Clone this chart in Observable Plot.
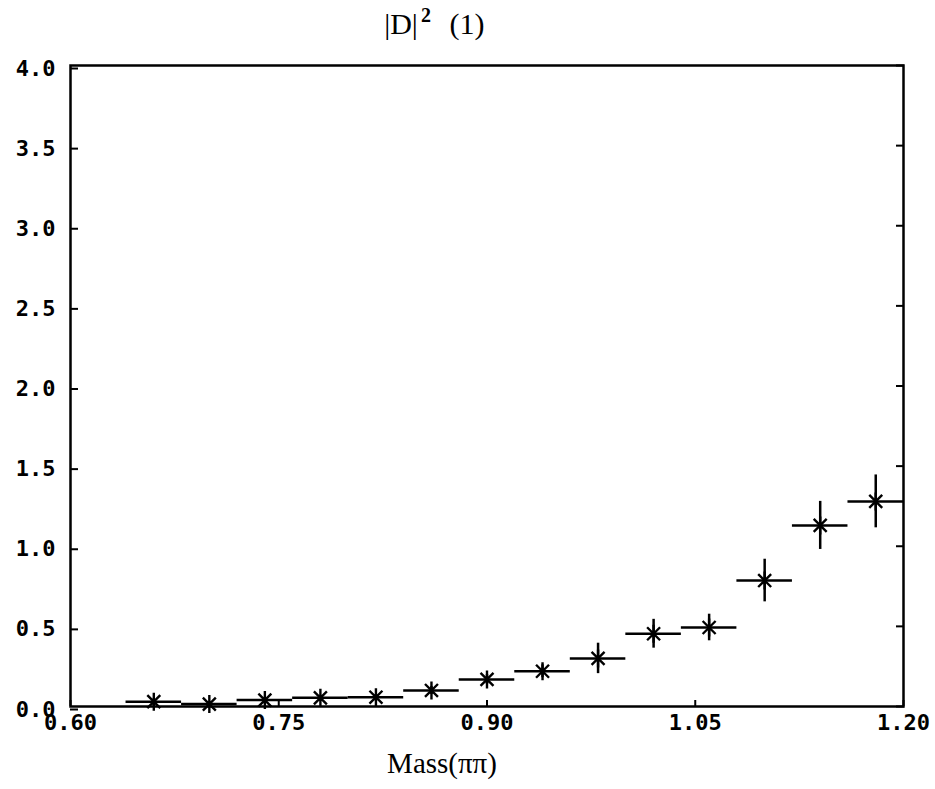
<!DOCTYPE html>
<html>
<head>
<meta charset="utf-8">
<script src="https://cdn.jsdelivr.net/npm/d3@7"></script>
<script src="https://cdn.jsdelivr.net/npm/@observablehq/plot@0.6"></script>
<style>
  html, body { margin: 0; padding: 0; background: #fff; }
</style>
</head>
<body>
<div id="chart"></div>
<script>
// Bin centres in ππ mass (GeV), |D|^2 per bin and its uncertainty
const mass = [0.66, 0.70, 0.74, 0.78, 0.82, 0.86, 0.90, 0.94, 0.98, 1.02, 1.06, 1.10, 1.14, 1.18];
const dsq  = [0.030, 0.015, 0.040, 0.054, 0.058, 0.100, 0.169, 0.220, 0.300, 0.454, 0.493, 0.786, 1.130, 1.280];
const err  = [0.010, 0.010, 0.015, 0.015, 0.015, 0.025, 0.030, 0.040, 0.095, 0.090, 0.083, 0.133, 0.150, 0.165];
const binHalfWidth = 0.02;

const xTicks = [0.60, 0.75, 0.90, 1.05, 1.20];
const yTicks = [0.0, 0.5, 1.0, 1.5, 2.0, 2.5, 3.0, 3.5, 4.0];

// Title pieces: "|D|", superscript "2", "(1)"
const titleParts = ["|D|", "2", "(1)"];
const xLabel = "Mass(ππ)";

const rows = mass.map((m, i) => ({
  m, v: dsq[i], lo: dsq[i] - err[i], hi: dsq[i] + err[i],
  left: m - binHalfWidth, right: m + binHalfWidth
}));

// Six-armed star: a vertical stroke crossed by an X
const star = {
  draw(context, size) {
    const r = Math.sqrt(size / Math.PI);
    const d = r * 0.72;
    context.moveTo(0, -r); context.lineTo(0, r);
    context.moveTo(-d, -d); context.lineTo(d, d);
    context.moveTo(-d, d); context.lineTo(d, -d);
  }
};

const tickFont = "'DejaVu Sans Mono', monospace";
const serif = "'Liberation Serif', 'DejaVu Serif', serif";

const chart = Plot.plot({
  width: 935,
  height: 789,
  marginLeft: 70,
  marginRight: 32,
  marginTop: 65,
  marginBottom: 83,
  style: { background: "#fff", color: "#000" },
  x: { domain: [0.6, 1.2] },
  y: { domain: [0, 4] },
  marks: [
    Plot.frame({ stroke: "#000", strokeWidth: 2.5 }),
    Plot.axisY(yTicks, {
      anchor: "left", tickSize: -8, tickPadding: 23, strokeWidth: 2,
      tickFormat: d3.format(".1f"), label: null,
      fontFamily: tickFont, fontSize: 22, fontWeight: "bold", dy: 3
    }),
    Plot.axisY(yTicks, {
      anchor: "right", tickSize: -8, strokeWidth: 2,
      tickFormat: () => "", label: null
    }),
    Plot.axisX(xTicks, {
      anchor: "bottom", tickSize: -6, tickPadding: 14, strokeWidth: 2,
      tickFormat: d3.format(".2f"), label: null,
      fontFamily: tickFont, fontSize: 22, fontWeight: "bold"
    }),
    // horizontal bars: bin width
    Plot.ruleY(rows, { y: "v", x1: "left", x2: "right", stroke: "#000", strokeWidth: 2.5 }),
    // vertical bars: uncertainty
    Plot.ruleX(rows, { x: "m", y1: "lo", y2: "hi", stroke: "#000", strokeWidth: 2.5 }),
    Plot.dot(rows, { x: "m", y: "v", symbol: star, r: 9, stroke: "#000", strokeWidth: 2.4 }),
    // title
    Plot.text([titleParts[0]], {
      frameAnchor: "top", dx: -86, dy: -32, text: d => d, textAnchor: "middle",
      lineAnchor: "bottom", fontFamily: serif, fontSize: 30, fill: "#000"
    }),
    Plot.text([titleParts[1]], {
      frameAnchor: "top", dx: -61, dy: -44, text: d => d, textAnchor: "middle",
      lineAnchor: "bottom", fontFamily: serif, fontSize: 20, fontWeight: "bold", fill: "#000"
    }),
    Plot.text([titleParts[2]], {
      frameAnchor: "top", dx: -20, dy: -32, text: d => d, textAnchor: "middle",
      lineAnchor: "bottom", fontFamily: serif, fontSize: 30, fill: "#000"
    }),
    Plot.text([xLabel], {
      frameAnchor: "bottom", dx: -45, dy: 66, text: d => d,
      fontFamily: serif, fontSize: 29, fill: "#000"
    })
  ]
});

document.getElementById("chart").appendChild(chart);
</script>
</body>
</html>
